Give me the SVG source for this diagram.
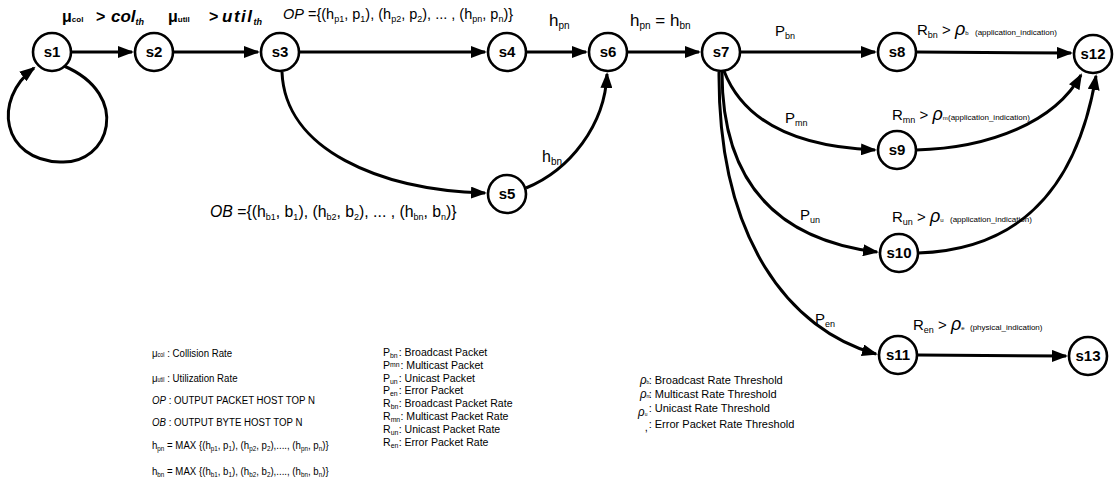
<svg xmlns="http://www.w3.org/2000/svg" width="1120" height="491" viewBox="0 0 1120 491">
<style>
text{font-family:"Liberation Sans",Arial,sans-serif;fill:#000}
.n circle{fill:#fff;stroke:#000;stroke-width:2.6}
.n text{font-size:15px;font-weight:bold;text-anchor:middle}
.e{fill:none;stroke:#000;stroke-width:3;marker-end:url(#a)}
.sb{font-size:9px}
.ls{font-size:7.5px}
.f14{font-size:14.5px}
.lg text{font-size:11.5px}
.it{font-style:italic}
.ind{font-size:8px}
</style>
<defs>
<marker id="a" markerUnits="userSpaceOnUse" markerWidth="18" markerHeight="12" refX="14" refY="6" orient="auto"><path d="M0,0 L16,6 L0,12 z" fill="#000"/></marker>
</defs>
<g id="connectors">
<path class="e" d="M64,66 C132,95 110,165 60,162 C2,160 -8,100 34,68"/>
<path class="e" d="M71,52 L132,52"/>
<path class="e" d="M174,52 L258,52"/>
<path class="e" d="M300,52 L485,52"/>
<path class="e" d="M282,72 C285,150 380,190 485,193"/>
<path class="e" d="M526,188 C570,170 605,125 607,74"/>
<path class="e" d="M527,52 L586,52"/>
<path class="e" d="M628,52 L699,52"/>
<path class="e" d="M741,52 L875,52"/>
<path class="e" d="M724,71 C745,125 800,147 875,150"/>
<path class="e" d="M722,72 C722,185 780,240 877,252"/>
<path class="e" d="M719,72 C718,240 790,330 876,354"/>
<path class="e" d="M917,52 L1071,53"/>
<path class="e" d="M916,150 C990,148 1055,122 1081,75"/>
<path class="e" d="M918,253 C1010,250 1075,200 1096,76"/>
<path class="e" d="M918,355 L1066,356"/>
</g>
<g id="s1" class="n"><circle cx="52" cy="52" r="19"/><text x="52" y="57">s1</text></g>
<g id="s2" class="n"><circle cx="154" cy="52" r="19"/><text x="154" y="57">s2</text></g>
<g id="s3" class="n"><circle cx="280" cy="52" r="19"/><text x="280" y="57">s3</text></g>
<g id="s4" class="n"><circle cx="507" cy="52" r="19"/><text x="507" y="57">s4</text></g>
<g id="s5" class="n"><circle cx="507" cy="194" r="19"/><text x="507" y="199">s5</text></g>
<g id="s6" class="n"><circle cx="608" cy="52" r="19"/><text x="608" y="57">s6</text></g>
<g id="s7" class="n"><circle cx="721" cy="52" r="19"/><text x="721" y="57">s7</text></g>
<g id="s8" class="n"><circle cx="897" cy="52" r="19"/><text x="897" y="57">s8</text></g>
<g id="s9" class="n"><circle cx="897" cy="150" r="19"/><text x="897" y="155">s9</text></g>
<g id="s10" class="n"><circle cx="899" cy="253" r="19"/><text x="899" y="258">s10</text></g>
<g id="s11" class="n"><circle cx="898" cy="355" r="19"/><text x="898" y="360">s11</text></g>
<g id="s12" class="n"><circle cx="1093" cy="54" r="19"/><text x="1093" y="59">s12</text></g>
<g id="s13" class="n"><circle cx="1088" cy="356" r="19"/><text x="1088" y="361">s13</text></g>
<g id="labels">
<text y="22" font-weight="bold"><tspan x="62" font-size="16">μ</tspan><tspan font-size="8">col</tspan><tspan x="96" font-size="16">&gt;</tspan><tspan x="111" class="it" font-size="17">col</tspan><tspan class="it" font-size="9" dy="3">th</tspan></text>
<text y="22" font-weight="bold"><tspan x="168" font-size="16">μ</tspan><tspan font-size="8">util</tspan><tspan x="209" font-size="16">&gt;</tspan><tspan x="222" class="it" font-size="17" letter-spacing="1.5">util</tspan><tspan class="it" font-size="9" dy="3">th</tspan></text>
<text x="283" y="19" class="f14"><tspan class="it">OP</tspan> ={(h<tspan class="sb" dy="3">p1</tspan><tspan dy="-3">, p</tspan><tspan class="sb" dy="3">1</tspan><tspan dy="-3">), (h</tspan><tspan class="sb" dy="3">p2</tspan><tspan dy="-3">, p</tspan><tspan class="sb" dy="3">2</tspan><tspan dy="-3">), ... , (h</tspan><tspan class="sb" dy="3">pn</tspan><tspan dy="-3">, p</tspan><tspan class="sb" dy="3">n</tspan><tspan dy="-3">)}</tspan></text>
<text x="549" y="26" font-size="17">h<tspan font-size="10" dy="3">pn</tspan></text>
<text x="630" y="26" font-size="17">h<tspan font-size="10" dy="3">pn</tspan><tspan dy="-3"> = h</tspan><tspan font-size="10" dy="3">bn</tspan></text>
<text x="542" y="162" font-size="16">h<tspan font-size="10" dy="3">bn</tspan></text>
<text x="210" y="217" font-size="15.8"><tspan class="it">OB</tspan> ={(h<tspan class="sb" dy="3">b1</tspan><tspan dy="-3">, b</tspan><tspan class="sb" dy="3">1</tspan><tspan dy="-3">), (h</tspan><tspan class="sb" dy="3">b2</tspan><tspan dy="-3">, b</tspan><tspan class="sb" dy="3">2</tspan><tspan dy="-3">), ... , (h</tspan><tspan class="sb" dy="3">bn</tspan><tspan dy="-3">, b</tspan><tspan class="sb" dy="3">n</tspan><tspan dy="-3">)}</tspan></text>
<text x="775" y="36" font-size="15">P<tspan font-size="9" dy="3">bn</tspan></text>
<text x="785" y="123" font-size="15">P<tspan font-size="9" dy="3">mn</tspan></text>
<text x="800" y="220" font-size="15">P<tspan font-size="9" dy="3">un</tspan></text>
<text x="815" y="324" font-size="15">P<tspan font-size="9" dy="3">en</tspan></text>
<text x="917" y="35" font-size="15">R<tspan font-size="9" dy="3">bn</tspan><tspan dy="-3"> &gt; </tspan><tspan class="it" font-size="18">ρ</tspan><tspan font-size="6">b</tspan><tspan x="975" class="ind">(application_indication)</tspan></text>
<text x="892" y="120" font-size="15">R<tspan font-size="9" dy="3">mn</tspan><tspan dy="-3"> &gt; </tspan><tspan class="it" font-size="18">ρ</tspan><tspan font-size="6">m</tspan><tspan x="948" class="ind">(application_indication)</tspan></text>
<text x="892" y="222" font-size="15">R<tspan font-size="9" dy="3">un</tspan><tspan dy="-3"> &gt; </tspan><tspan class="it" font-size="18">ρ</tspan><tspan font-size="6">u</tspan><tspan x="950" class="ind">(application_indication)</tspan></text>
<text x="913" y="330" font-size="15">R<tspan font-size="9" dy="3">en</tspan><tspan dy="-3"> &gt; </tspan><tspan class="it" font-size="18">ρ</tspan><tspan font-size="6">e</tspan><tspan x="970" class="ind">(physical_indication)</tspan></text>
</g>
<g id="legend" class="lg">
<g transform="translate(152,0) scale(0.84,1)">
<text x="0" y="357">μ<tspan font-size="6.5">col</tspan> : Collision Rate</text>
<text x="0" y="382">μ<tspan font-size="6.5">util</tspan> : Utilization Rate</text>
<text x="0" y="404"><tspan class="it">OP</tspan> : OUTPUT PACKET HOST TOP N</text>
<text x="0" y="426"><tspan class="it">OB</tspan> : OUTPUT BYTE HOST TOP N</text>
<text x="0" y="449">h<tspan class="ls" dy="2.5">pn</tspan><tspan dy="-2.5"> = MAX {(h</tspan><tspan class="ls" dy="2.5">p1</tspan><tspan dy="-2.5">, p</tspan><tspan class="ls" dy="2.5">1</tspan><tspan dy="-2.5">), (h</tspan><tspan class="ls" dy="2.5">p2</tspan><tspan dy="-2.5">, p</tspan><tspan class="ls" dy="2.5">2</tspan><tspan dy="-2.5">),...., (h</tspan><tspan class="ls" dy="2.5">pn</tspan><tspan dy="-2.5">, p</tspan><tspan class="ls" dy="2.5">n</tspan><tspan dy="-2.5">)}</tspan></text>
<text x="0" y="475">h<tspan class="ls" dy="2.5">bn</tspan><tspan dy="-2.5"> = MAX {(h</tspan><tspan class="ls" dy="2.5">b1</tspan><tspan dy="-2.5">, b</tspan><tspan class="ls" dy="2.5">1</tspan><tspan dy="-2.5">), (h</tspan><tspan class="ls" dy="2.5">b2</tspan><tspan dy="-2.5">, b</tspan><tspan class="ls" dy="2.5">2</tspan><tspan dy="-2.5">),...., (h</tspan><tspan class="ls" dy="2.5">bn</tspan><tspan dy="-2.5">, b</tspan><tspan class="ls" dy="2.5">n</tspan><tspan dy="-2.5">)}</tspan></text>
</g>
<g transform="translate(383,0) scale(0.92,1)">
<text x="0" y="356">P<tspan class="ls" dy="2.5">bn</tspan><tspan x="17" dy="-2.5">: Broadcast Packet</tspan></text>
<text x="0" y="369">P<tspan class="ls" dy="-2">mn</tspan><tspan x="19" dy="2">: Multicast Packet</tspan></text>
<text x="0" y="382">P<tspan class="ls" dy="2.5">un</tspan><tspan x="17" dy="-2.5">: Unicast Packet</tspan></text>
<text x="0" y="394">P<tspan class="ls" dy="2.5">en</tspan><tspan x="17" dy="-2.5">: Error Packet</tspan></text>
<text x="0" y="407">R<tspan class="ls" dy="2.5">bn</tspan><tspan x="17" dy="-2.5">: Broadcast Packet Rate</tspan></text>
<text x="0" y="420">R<tspan class="ls" dy="2.5">mn</tspan><tspan x="19" dy="-2.5">: Multicast Packet Rate</tspan></text>
<text x="0" y="433">R<tspan class="ls" dy="2.5">un</tspan><tspan x="17" dy="-2.5">: Unicast Packet Rate</tspan></text>
<text x="0" y="446">R<tspan class="ls" dy="2.5">en</tspan><tspan x="17" dy="-2.5">: Error Packet Rate</tspan></text>
</g>
<g transform="translate(640,0) scale(0.96,1)">
<text x="0" y="384"><tspan class="it" font-size="12">ρ</tspan><tspan font-size="5">b</tspan><tspan x="9">: Broadcast Rate Threshold</tspan></text>
<text x="0" y="398"><tspan class="it" font-size="12">ρ</tspan><tspan font-size="5">m</tspan><tspan x="9">: Multicast Rate Threshold</tspan></text>
<text x="-2" y="412"><tspan class="it" font-size="12" dy="4">ρ</tspan><tspan font-size="5">u</tspan><tspan x="9" dy="-4">: Unicast Rate Threshold</tspan></text>
<text x="5" y="428"><tspan dy="3">,</tspan><tspan x="9" dy="-3">: Error Packet Rate Threshold</tspan></text>
</g>
</g>
</svg>
